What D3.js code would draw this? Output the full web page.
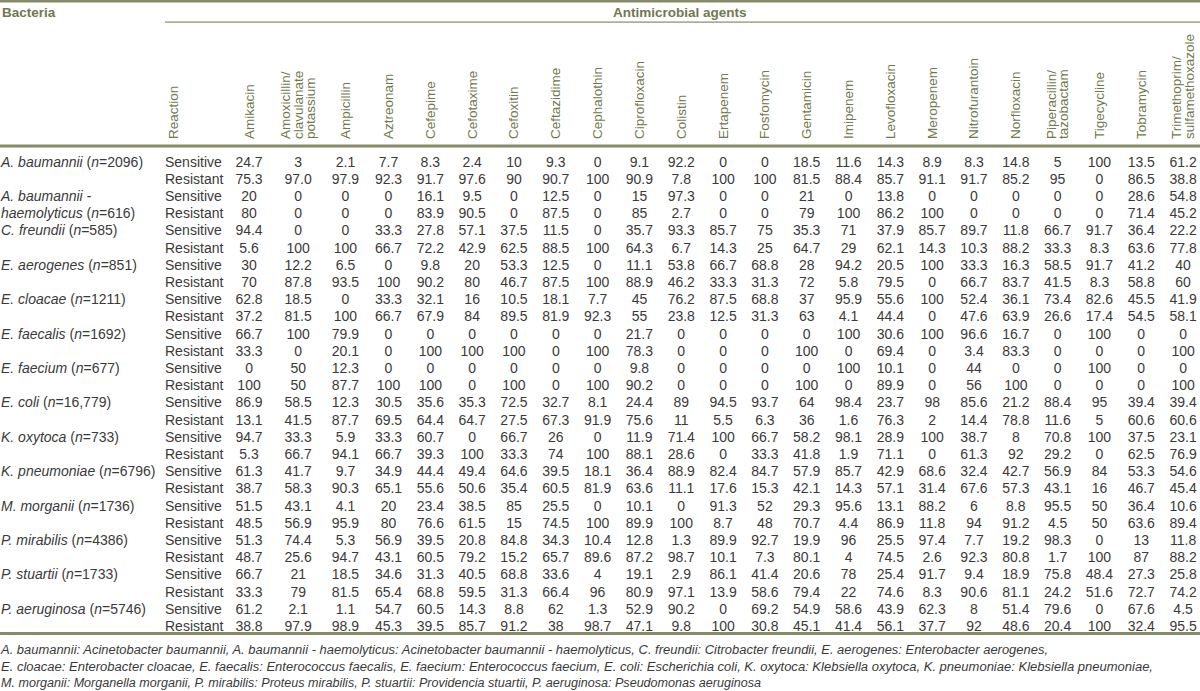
<!DOCTYPE html>
<html>
<head>
<meta charset="utf-8">
<script src="https://cdn.jsdelivr.net/npm/d3@7"></script>
<style>
  body { margin: 0; background: #fff; }
  text { font-family: "Liberation Sans", Arial, sans-serif; }
</style>
</head>
<body>
<div id="myDataVis"></div>
<script>
// table content
const bacteria = ['A. baumannii', 'A. baumannii - haemolyticus', 'C. freundii', 'E. aerogenes', 'E. cloacae',
    'E. faecalis', 'E. faecium', 'E. coli', 'K. oxytoca', 'K. pneumoniae', 'M. morganii', 'P. mirabilis',
    'P. stuartii', 'P. aeruginosa'];
const sampleSize = ['2096', '616', '585', '851', '1211', '1692', '677', '16,779', '733', '6796', '1736', '4386', '1733', '5746'];
const reactions = ['Sensitive', 'Resistant'];
const agents = ['Amikacin', 'Amoxicillin/clavulanate potassium', 'Ampicillin', 'Aztreonam', 'Cefepime', 'Cefotaxime',
    'Cefoxitin', 'Ceftazidime', 'Cephalothin', 'Ciprofloxacin', 'Colistin', 'Ertapenem', 'Fosfomycin', 'Gentamicin',
    'Imipenem', 'Levofloxacin', 'Meropenem', 'Nitrofurantoin', 'Norfloxacin', 'Piperacillin/tazobactam',
    'Tigecycline', 'Tobramycin', 'Trimethoprim/sulfamethoxazole'];

const sensitive = [
    ['24.7', '3', '2.1', '7.7', '8.3', '2.4', '10', '9.3', '0', '9.1', '92.2', '0', '0', '18.5', '11.6', '14.3', '8.9', '8.3', '14.8', '5', '100', '13.5', '61.2'],
    ['20', '0', '0', '0', '16.1', '9.5', '0', '12.5', '0', '15', '97.3', '0', '0', '21', '0', '13.8', '0', '0', '0', '0', '0', '28.6', '54.8'],
    ['94.4', '0', '0', '33.3', '27.8', '57.1', '37.5', '11.5', '0', '35.7', '93.3', '85.7', '75', '35.3', '71', '37.9', '85.7', '89.7', '11.8', '66.7', '91.7', '36.4', '22.2'],
    ['30', '12.2', '6.5', '0', '9.8', '20', '53.3', '12.5', '0', '11.1', '53.8', '66.7', '68.8', '28', '94.2', '20.5', '100', '33.3', '16.3', '58.5', '91.7', '41.2', '40'],
    ['62.8', '18.5', '0', '33.3', '32.1', '16', '10.5', '18.1', '7.7', '45', '76.2', '87.5', '68.8', '37', '95.9', '55.6', '100', '52.4', '36.1', '73.4', '82.6', '45.5', '41.9'],
    ['66.7', '100', '79.9', '0', '0', '0', '0', '0', '0', '21.7', '0', '0', '0', '0', '100', '30.6', '100', '96.6', '16.7', '0', '100', '0', '0'],
    ['0', '50', '12.3', '0', '0', '0', '0', '0', '0', '9.8', '0', '0', '0', '0', '100', '10.1', '0', '44', '0', '0', '100', '0', '0'],
    ['86.9', '58.5', '12.3', '30.5', '35.6', '35.3', '72.5', '32.7', '8.1', '24.4', '89', '94.5', '93.7', '64', '98.4', '23.7', '98', '85.6', '21.2', '88.4', '95', '39.4', '39.4'],
    ['94.7', '33.3', '5.9', '33.3', '60.7', '0', '66.7', '26', '0', '11.9', '71.4', '100', '66.7', '58.2', '98.1', '28.9', '100', '38.7', '8', '70.8', '100', '37.5', '23.1'],
    ['61.3', '41.7', '9.7', '34.9', '44.4', '49.4', '64.6', '39.5', '18.1', '36.4', '88.9', '82.4', '84.7', '57.9', '85.7', '42.9', '68.6', '32.4', '42.7', '56.9', '84', '53.3', '54.6'],
    ['51.5', '43.1', '4.1', '20', '23.4', '38.5', '85', '25.5', '0', '10.1', '0', '91.3', '52', '29.3', '95.6', '13.1', '88.2', '6', '8.8', '95.5', '50', '36.4', '10.6'],
    ['51.3', '74.4', '5.3', '56.9', '39.5', '20.8', '84.8', '34.3', '10.4', '12.8', '1.3', '89.9', '92.7', '19.9', '96', '25.5', '97.4', '7.7', '19.2', '98.3', '0', '13', '11.8'],
    ['66.7', '21', '18.5', '34.6', '31.3', '40.5', '68.8', '33.6', '4', '19.1', '2.9', '86.1', '41.4', '20.6', '78', '25.4', '91.7', '9.4', '18.9', '75.8', '48.4', '27.3', '25.8'],
    ['61.2', '2.1', '1.1', '54.7', '60.5', '14.3', '8.8', '62', '1.3', '52.9', '90.2', '0', '69.2', '54.9', '58.6', '43.9', '62.3', '8', '51.4', '79.6', '0', '67.6', '4.5']
];
const resistant = [
    ['75.3', '97.0', '97.9', '92.3', '91.7', '97.6', '90', '90.7', '100', '90.9', '7.8', '100', '100', '81.5', '88.4', '85.7', '91.1', '91.7', '85.2', '95', '0', '86.5', '38.8'],
    ['80', '0', '0', '0', '83.9', '90.5', '0', '87.5', '0', '85', '2.7', '0', '0', '79', '100', '86.2', '100', '0', '0', '0', '0', '71.4', '45.2'],
    ['5.6', '100', '100', '66.7', '72.2', '42.9', '62.5', '88.5', '100', '64.3', '6.7', '14.3', '25', '64.7', '29', '62.1', '14.3', '10.3', '88.2', '33.3', '8.3', '63.6', '77.8'],
    ['70', '87.8', '93.5', '100', '90.2', '80', '46.7', '87.5', '100', '88.9', '46.2', '33.3', '31.3', '72', '5.8', '79.5', '0', '66.7', '83.7', '41.5', '8.3', '58.8', '60'],
    ['37.2', '81.5', '100', '66.7', '67.9', '84', '89.5', '81.9', '92.3', '55', '23.8', '12.5', '31.3', '63', '4.1', '44.4', '0', '47.6', '63.9', '26.6', '17.4', '54.5', '58.1'],
    ['33.3', '0', '20.1', '0', '100', '100', '100', '0', '100', '78.3', '0', '0', '0', '100', '0', '69.4', '0', '3.4', '83.3', '0', '0', '0', '100'],
    ['100', '50', '87.7', '100', '100', '0', '100', '0', '100', '90.2', '0', '0', '0', '100', '0', '89.9', '0', '56', '100', '0', '0', '0', '100'],
    ['13.1', '41.5', '87.7', '69.5', '64.4', '64.7', '27.5', '67.3', '91.9', '75.6', '11', '5.5', '6.3', '36', '1.6', '76.3', '2', '14.4', '78.8', '11.6', '5', '60.6', '60.6'],
    ['5.3', '66.7', '94.1', '66.7', '39.3', '100', '33.3', '74', '100', '88.1', '28.6', '0', '33.3', '41.8', '1.9', '71.1', '0', '61.3', '92', '29.2', '0', '62.5', '76.9'],
    ['38.7', '58.3', '90.3', '65.1', '55.6', '50.6', '35.4', '60.5', '81.9', '63.6', '11.1', '17.6', '15.3', '42.1', '14.3', '57.1', '31.4', '67.6', '57.3', '43.1', '16', '46.7', '45.4'],
    ['48.5', '56.9', '95.9', '80', '76.6', '61.5', '15', '74.5', '100', '89.9', '100', '8.7', '48', '70.7', '4.4', '86.9', '11.8', '94', '91.2', '4.5', '50', '63.6', '89.4'],
    ['48.7', '25.6', '94.7', '43.1', '60.5', '79.2', '15.2', '65.7', '89.6', '87.2', '98.7', '10.1', '7.3', '80.1', '4', '74.5', '2.6', '92.3', '80.8', '1.7', '100', '87', '88.2'],
    ['33.3', '79', '81.5', '65.4', '68.8', '59.5', '31.3', '66.4', '96', '80.9', '97.1', '13.9', '58.6', '79.4', '22', '74.6', '8.3', '90.6', '81.1', '24.2', '51.6', '72.7', '74.2'],
    ['38.8', '97.9', '98.9', '45.3', '39.5', '85.7', '91.2', '38', '98.7', '47.1', '9.8', '100', '30.8', '45.1', '41.4', '56.1', '37.7', '92', '48.6', '20.4', '100', '32.4', '95.5']
];

const footnotes = [
    'A. baumannii: Acinetobacter baumannii, A. baumannii - haemolyticus: Acinetobacter baumannii - haemolyticus, C. freundii: Citrobacter freundii, E. aerogenes: Enterobacter aerogenes,',
    'E. cloacae: Enterobacter cloacae, E. faecalis: Enterococcus faecalis, E. faecium: Enterococcus faecium, E. coli: Escherichia coli, K. oxytoca: Klebsiella oxytoca, K. pneumoniae: Klebsiella pneumoniae,',
    'M. morganii: Morganella morganii, P. mirabilis: Proteus mirabilis, P. stuartii: Providencia stuartii, P. aeruginosa: Pseudomonas aeruginosa'
];

const width = 1200;
const height = 691;
const ruleColor = '#878c66';
const headColor = '#71784f';
const bodyColor = '#3a3a3a';
const reactionX = 165;

var svg = d3.select('#myDataVis')
    .append('svg')
        .attr('width', width)
        .attr('height', height);

// column widths (relative), the first columns are a bit wider
let colWeights = agents.map((a, i) => [1.15, 1.2, 1.06][i] || 1);
let colStart = [0].concat(Array.from(d3.cumsum(colWeights)));
let xUnit = d3.scaleLinear()
    .domain([0, d3.sum(colWeights)])
    .range([225, 1204]);
const colX = i => xUnit(colStart[i] + colWeights[i] / 2);

// one row per bacteria and reaction
let rows = [];
bacteria.forEach((b, i) => {
    reactions.forEach((r, j) => {
        rows.push({ bi: i, reaction: r, values: j === 0 ? sensitive[i] : resistant[i] });
    });
});
let y = d3.scalePoint()
    .domain(d3.range(rows.length))
    .range([161.5, 626]);

//rules
svg.append('rect').attr('x', 0).attr('y', 0).attr('width', width).attr('height', 2.5).attr('fill', ruleColor);
svg.append('rect').attr('x', reactionX).attr('y', 21.5).attr('width', width - reactionX).attr('height', 1.2).attr('fill', ruleColor);
svg.append('rect').attr('x', 0).attr('y', 144.5).attr('width', width).attr('height', 3).attr('fill', ruleColor);
svg.append('rect').attr('x', 0).attr('y', 632).attr('width', width).attr('height', 3).attr('fill', ruleColor);

//top headers
svg.append('text')
    .text('Bacteria')
    .attr('x', 2).attr('y', 17)
    .attr('font-size', 13.5).attr('font-weight', 'bold')
    .attr('fill', headColor);

svg.append('text')
    .text('Antimicrobial agents')
    .attr('x', 613).attr('y', 17)
    .attr('font-size', 13.5).attr('font-weight', 'bold')
    .attr('fill', headColor);

//rotated headers
function headerLines(name) {
    let parts = name.split('/');
    let lines = [];
    parts.forEach((p, i) => {
        if (i < parts.length - 1) lines.push(p + '/');
        else if (i === 0) lines.push(p);
        else p.split(' ').forEach(w => lines.push(w));
    });
    return lines;
}

const lineGap = 12.5;
let headerCols = [{ name: 'Reaction', x: reactionX + 8 }].concat(agents.map((a, i) => ({ name: a, x: colX(i) })));

headerCols.forEach(h => {
    let lines = headerLines(h.name);
    lines.forEach((l, k) => {
        let dx = (k - (lines.length - 1) / 2) * lineGap;
        svg.append('text')
            .text(l)
            .attr('transform', `translate(${h.x + dx}, 139) rotate(-90)`)
            .attr('dominant-baseline', 'central')
            .attr('font-size', 13.5)
            .attr('fill', headColor);
    });
});

//row labels
rows.forEach((r, i) => {
    let name = bacteria[r.bi];
    let parts = name.split(' - ');
    let label = null;
    if (parts.length === 1 && r.reaction === 'Sensitive') {
        label = { species: name, n: sampleSize[r.bi] };
    } else if (parts.length === 2) {
        label = r.reaction === 'Sensitive'
            ? { species: parts[0] + ' -', n: null }
            : { species: parts[1], n: sampleSize[r.bi] };
    }
    if (label) {
        let t = svg.append('text')
            .attr('x', 1).attr('y', y(i))
            .attr('dominant-baseline', 'central')
            .attr('font-size', 14)
            .attr('fill', bodyColor);
        t.append('tspan').attr('font-style', 'italic').text(label.species);
        if (label.n) {
            t.append('tspan').text(' (');
            t.append('tspan').attr('font-style', 'italic').text('n');
            t.append('tspan').text('=' + label.n + ')');
        }
    }

    svg.append('text')
        .text(r.reaction)
        .attr('x', reactionX).attr('y', y(i))
        .attr('dominant-baseline', 'central')
        .attr('font-size', 14)
        .attr('fill', bodyColor);
});

//cells
rows.forEach((r, i) => {
    svg.selectAll('.cell-' + i)
        .data(r.values)
        .enter()
        .append('text')
            .attr('class', 'cell-' + i)
            .text(d => d)
            .attr('x', (d, j) => colX(j))
            .attr('y', y(i))
            .attr('text-anchor', 'middle')
            .attr('dominant-baseline', 'central')
            .attr('font-size', 14)
            .attr('fill', bodyColor);
});

//footnotes
const footLength = [1047, 1152, 760];
footnotes.forEach((f, i) => {
    svg.append('text')
        .text(f)
        .attr('x', 1).attr('y', 650 + i * 16.5)
        .attr('dominant-baseline', 'central')
        .attr('font-size', 12.5)
        .attr('font-style', 'italic')
        .attr('textLength', footLength[i])
        .attr('lengthAdjust', 'spacingAndGlyphs')
        .attr('fill', bodyColor);
});
</script>
</body>
</html>
